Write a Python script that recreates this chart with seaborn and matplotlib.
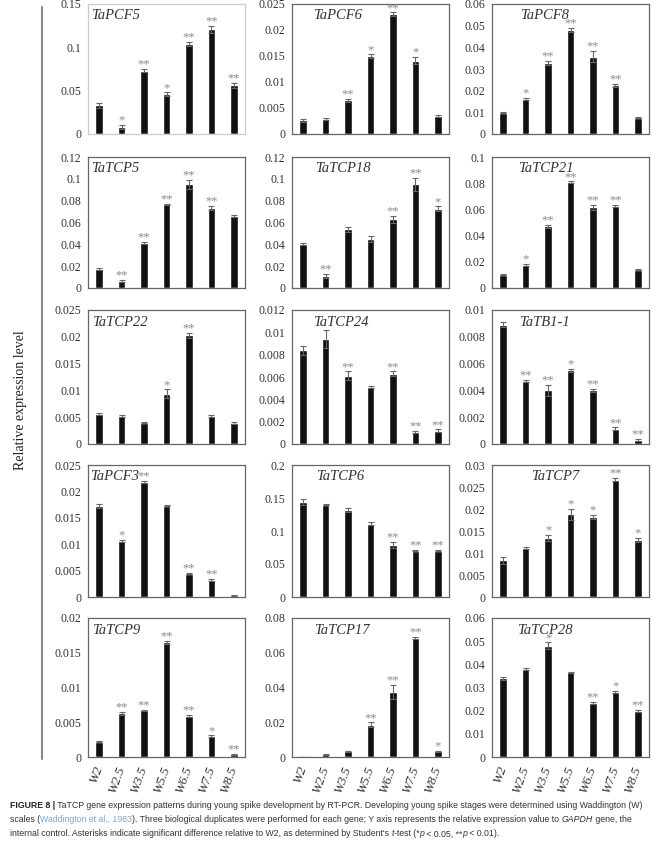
import numpy as np
import pandas as pd
import seaborn as sns
import matplotlib.pyplot as plt
from matplotlib.lines import Line2D

sns.set_style("white")
plt.rcParams['font.family'] = ['Liberation Serif', 'DejaVu Serif']

stages = ['W2', 'W2.5', 'W3.5', 'W5.5', 'W6.5', 'W7.5', 'W8.5']
genes = ['TaPCF5', 'TaPCF6', 'TaPCF8', 'TaTCP5', 'TaTCP18', 'TaTCP21',
         'TaTCP22', 'TaTCP24', 'TaTB1-1', 'TaPCF3', 'TaTCP6', 'TaTCP7',
         'TaTCP9', 'TaTCP17', 'TaTCP28']

# mean relative expression, error and significance per gene
pcf5 = [0.033, 0.0083, 0.073, 0.046, 0.104, 0.121, 0.056]
pcf5_err = [0.003, 0.002, 0.002, 0.002, 0.002, 0.004, 0.003]
pcf5_sig = ['', '*', '**', '*', '**', '**', '**']

pcf6 = [0.0026, 0.0029, 0.0065, 0.015, 0.023, 0.0141, 0.0034]
pcf6_err = [0.0002, 0.0002, 0.0003, 0.0003, 0.0004, 0.0007, 0.0002]
pcf6_sig = ['', '', '**', '*', '**', '*', '']

pcf8 = [0.0099, 0.016, 0.0328, 0.048, 0.0357, 0.0224, 0.0076]
pcf8_err = [0.0003, 0.0005, 0.0008, 0.0008, 0.0025, 0.0008, 0.0003]
pcf8_sig = ['', '*', '**', '**', '**', '**', '']

tcp5 = [0.0176, 0.0067, 0.041, 0.0767, 0.095, 0.0733, 0.0658]
tcp5_err = [0.001, 0.001, 0.001, 0.0005, 0.004, 0.002, 0.001]
tcp5_sig = ['', '**', '**', '**', '**', '**', '']

tcp18 = [0.04, 0.011, 0.0536, 0.045, 0.063, 0.095, 0.0727]
tcp18_err = [0.001, 0.002, 0.002, 0.003, 0.003, 0.006, 0.002]
tcp18_sig = ['', '**', '', '', '**', '**', '*']

tcp21 = [0.0103, 0.0176, 0.047, 0.0806, 0.0617, 0.0625, 0.0139]
tcp21_err = [0.0005, 0.001, 0.001, 0.0008, 0.002, 0.001, 0.0005]
tcp21_sig = ['', '*', '**', '**', '**', '**', '']

tcp22 = [0.0056, 0.0053, 0.004, 0.0094, 0.0203, 0.0053, 0.0039]
tcp22_err = [0.0001, 0.0002, 0.0001, 0.0008, 0.0005, 0.0002, 0.0002]
tcp22_sig = ['', '', '', '*', '**', '', '']

tcp24 = [0.0084, 0.0094, 0.0061, 0.0051, 0.0063, 0.0011, 0.0012]
tcp24_err = [0.0004, 0.0008, 0.0004, 0.0001, 0.0002, 0.0001, 0.0001]
tcp24_sig = ['', '', '**', '', '**', '**', '**']

tb1 = [0.0089, 0.0047, 0.004, 0.0055, 0.004, 0.00114, 0.0003]
tb1_err = [0.0002, 0.0001, 0.0004, 0.0001, 0.0001, 0.0001, 0.0001]
tb1_sig = ['', '**', '**', '*', '**', '**', '**']

pcf3 = [0.0172, 0.0106, 0.0218, 0.0173, 0.0044, 0.0033, 0.0003]
pcf3_err = [0.0004, 0.0002, 0.0002, 0.0001, 0.0001, 0.0002, 0.0001]
pcf3_sig = ['', '*', '**', '', '**', '**', '']

tcp6 = [0.144, 0.14, 0.132, 0.111, 0.079, 0.0703, 0.0703]
tcp6_err = [0.004, 0.001, 0.003, 0.002, 0.004, 0.001, 0.001]
tcp6_sig = ['', '', '', '', '**', '**', '**']

tcp7 = [0.0083, 0.0111, 0.0134, 0.0188, 0.0182, 0.0267, 0.013]
tcp7_err = [0.0007, 0.0003, 0.0007, 0.0012, 0.0005, 0.0004, 0.0005]
tcp7_sig = ['', '', '*', '*', '*', '**', '*']

tcp9 = [0.0022, 0.0063, 0.0067, 0.0165, 0.0059, 0.003, 0.0004]
tcp9_err = [0.0001, 0.0002, 0.0001, 0.0002, 0.0002, 0.0001, 0.0001]
tcp9_sig = ['', '**', '**', '**', '**', '*', '**']

tcp17 = [0.0001, 0.0015, 0.0032, 0.0185, 0.0375, 0.0686, 0.0032]
tcp17_err = [0.0, 0.0003, 0.0005, 0.0015, 0.004, 0.0005, 0.0005]
tcp17_sig = ['', '', '', '**', '**', '**', '*']

tcp28 = [0.0339, 0.038, 0.048, 0.0365, 0.0234, 0.0281, 0.0198]
tcp28_err = [0.0005, 0.0005, 0.0015, 0.0003, 0.0005, 0.0005, 0.0005]
tcp28_sig = ['', '', '*', '', '**', '*', '**']

values = [pcf5, pcf6, pcf8, tcp5, tcp18, tcp21, tcp22, tcp24, tb1,
          pcf3, tcp6, tcp7, tcp9, tcp17, tcp28]
errors = [pcf5_err, pcf6_err, pcf8_err, tcp5_err, tcp18_err, tcp21_err,
          tcp22_err, tcp24_err, tb1_err, pcf3_err, tcp6_err, tcp7_err,
          tcp9_err, tcp17_err, tcp28_err]
sigs = [pcf5_sig, pcf6_sig, pcf8_sig, tcp5_sig, tcp18_sig, tcp21_sig,
        tcp22_sig, tcp24_sig, tb1_sig, pcf3_sig, tcp6_sig, tcp7_sig,
        tcp9_sig, tcp17_sig, tcp28_sig]
y_max = [0.15, 0.025, 0.06, 0.12, 0.12, 0.1, 0.025, 0.012, 0.01,
         0.025, 0.2, 0.03, 0.02, 0.08, 0.06]
y_step = [0.05, 0.005, 0.01, 0.02, 0.02, 0.02, 0.005, 0.002, 0.002,
          0.005, 0.05, 0.005, 0.005, 0.02, 0.01]

# layout (pixels of a 663x850 figure)
W, H = 663, 850
col_left = [88, 292, 492]
col_width = 157
row_top = [4, 157, 310, 465, 618]
row_bottom = [134, 288, 444, 597, 757]
title_x = [0.02, 0.135, 0.18, 0.02, 0.145, 0.165, 0.025, 0.135, 0.17,
           0.015, 0.155, 0.25, 0.025, 0.14, 0.16]

fig = plt.figure(figsize=(W / 100, H / 100), dpi=100)

for i, gene in enumerate(genes):
    r, c = divmod(i, 3)
    rect = [col_left[c] / W, 1 - row_bottom[r] / H, col_width / W,
            (row_bottom[r] - row_top[r]) / H]
    ax = fig.add_axes(rect)
    df = pd.DataFrame({'stage': stages, 'value': values[i]})
    sns.barplot(data=df, x='stage', y='value', color='#111111',
                saturation=1, width=0.34, errorbar=None, ax=ax)
    ax.errorbar(range(len(stages)), values[i], yerr=errors[i], fmt='none',
                ecolor='#666666', elinewidth=0.8, capsize=2.5, capthick=0.8)
    ymax = y_max[i]
    for j, s in enumerate(sigs[i]):
        if s:
            ax.text(j, values[i][j] + errors[i][j] - 0.012 * ymax, s,
                    ha='center', va='bottom', fontsize=9, color='#8a8a8a')
    ax.set_xlim(-0.5, 6.5)
    ax.set_ylim(0, ymax)
    ticks = np.round(np.arange(0, ymax + y_step[i] / 2, y_step[i]), 4)
    ax.set_yticks(ticks)
    ax.set_yticklabels([f'{t:g}' for t in ticks])
    ax.tick_params(axis='y', direction='out', length=3, width=0.8,
                   color='#666666', labelsize=8.5, pad=2, labelcolor='#333333')
    ax.tick_params(axis='x', length=0)
    ax.set_xlabel('')
    ax.set_ylabel('')
    if r == 4:
        ax.set_xticklabels(stages, rotation=70, ha='right', va='center',
                           rotation_mode='anchor', fontstyle='italic',
                           fontsize=9.5, color='#333333')
        ax.tick_params(axis='x', pad=7)
    else:
        ax.set_xticklabels([])
    edge = '#cccccc' if i == 0 else '#666666'
    for sp in ax.spines.values():
        sp.set_color(edge)
        sp.set_linewidth(0.9)
    ax.text(title_x[i], 0.91, gene, transform=ax.transAxes, ha='left',
            va='center', fontsize=10.5, fontstyle='italic', color='#333333')

# shared y label and bracket line
fig.text(21 / W, 1 - 400 / H, 'Relative expression level', rotation=90,
         ha='center', va='center', fontsize=10, color='#222222')
fig.add_artist(Line2D([42 / W, 42 / W], [1 - 7 / H, 1 - 759 / H],
                      color='#888888', linewidth=1.5))

# caption
bg = fig.add_axes([0, 0, 1, 1])
bg.axis('off')
bg.set_zorder(-1)
cap_font = ['Liberation Sans', 'DejaVu Sans']
cap_size = 6.35
cap_lines = [
    [('FIGURE 8 |', 'bold', 'normal', '#222222'),
     (' TaTCP gene expression patterns during young spike development by RT-PCR. '
      'Developing young spike stages were determined using Waddington (W)',
      'normal', 'normal', '#333333')],
    [('scales (', 'normal', 'normal', '#333333'),
     ('Waddington et al., 1983', 'normal', 'normal', '#7fa6d0'),
     ('). Three biological duplicates were performed for each gene; Y axis '
      'represents the relative expression value to ', 'normal', 'normal', '#333333'),
     ('GAPDH', 'normal', 'italic', '#333333'),
     (' gene, the', 'normal', 'normal', '#333333')],
    [('internal control. Asterisks indicate significant difference relative to W2, '
      "as determined by Student's ", 'normal', 'normal', '#333333'),
     ('t', 'normal', 'italic', '#333333'),
     ('-test (*', 'normal', 'normal', '#333333'),
     ('p', 'normal', 'italic', '#333333'),
     (' < 0.05, **', 'normal', 'normal', '#333333'),
     ('p', 'normal', 'italic', '#333333'),
     (' < 0.01).', 'normal', 'normal', '#333333')],
]
cap_y = [805, 820, 834]
for line, yc in zip(cap_lines, cap_y):
    prev = None
    for txt, wt, st, col in line:
        if prev is None:
            prev = bg.text(10 / W, 1 - yc / H, txt, transform=fig.transFigure,
                           ha='left', va='center', fontsize=cap_size,
                           fontweight=wt, fontstyle=st, color=col,
                           family=cap_font)
        else:
            prev = bg.annotate(txt, xy=(1, 0), xycoords=prev, ha='left',
                               va='bottom', fontsize=cap_size, fontweight=wt,
                               fontstyle=st, color=col, family=cap_font)

fig.savefig('out.png', dpi=100)
